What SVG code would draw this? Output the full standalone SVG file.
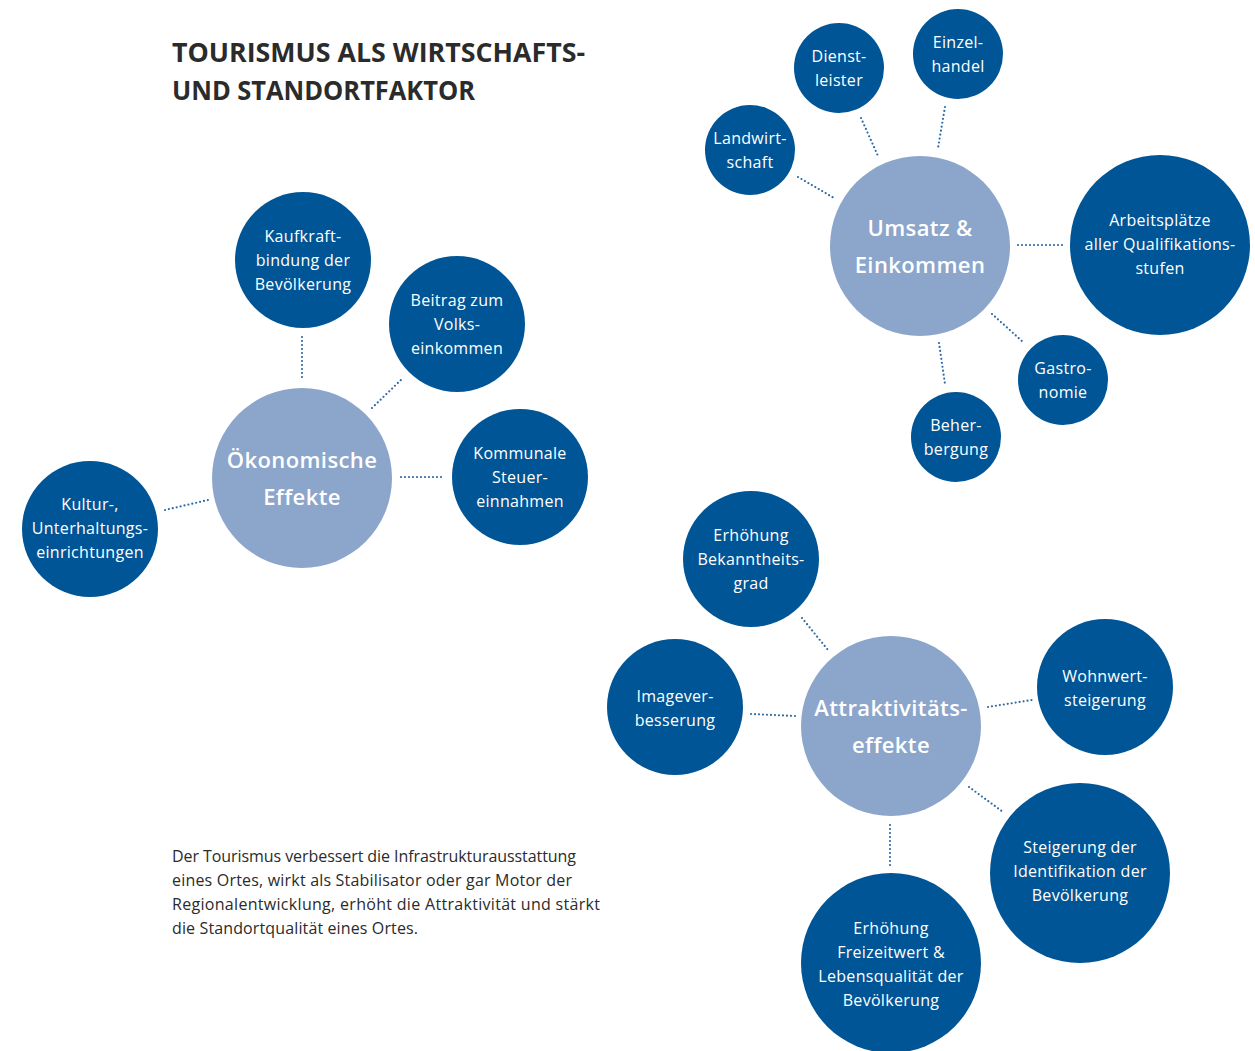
<svg xmlns="http://www.w3.org/2000/svg" width="1255" height="1051" viewBox="0 0 1255 1051">
<style>
.d{fill:#005596}
.l{fill:#8ba5cb}
.t{font-family:"Open Sans","Noto Sans",sans-serif;fill:#fff;font-size:16px;text-anchor:middle;font-weight:500;letter-spacing:0.3px}
.c{font-family:"Open Sans","Noto Sans",sans-serif;fill:#fff;font-size:22px;text-anchor:middle;font-weight:600;letter-spacing:0.4px}
.h{font-family:"Open Sans","Noto Sans",sans-serif;fill:#2b2b2b;font-size:26px;font-weight:700}
.b{font-family:"Open Sans","Noto Sans",sans-serif;fill:#2b2b2b;font-size:16px;font-weight:500}
.k line{stroke:#2d6aa5;stroke-width:2.2;stroke-linecap:round;stroke-dasharray:0 4;fill:none}
</style>
<rect width="1255" height="1051" fill="#fff"/>
<g id="title">
<text class="h" x="172" y="62" textLength="413" lengthAdjust="spacingAndGlyphs">TOURISMUS ALS WIRTSCHAFTS-</text>
<text class="h" x="172" y="100" textLength="303" lengthAdjust="spacingAndGlyphs">UND STANDORTFAKTOR</text>
</g>
<g id="body">
<text class="b" x="172" y="862" textLength="404">Der Tourismus verbessert die Infrastrukturausstattung</text>
<text class="b" x="172" y="886" textLength="400">eines Ortes, wirkt als Stabilisator oder gar Motor der</text>
<text class="b" x="172" y="910" textLength="428">Regionalentwicklung, erhöht die Attraktivität und stärkt</text>
<text class="b" x="172" y="934" textLength="246">die Standortqualität eines Ortes.</text>
</g>
<g id="connectors" class="k">
<line x1="302" y1="337" x2="302" y2="379"/>
<line x1="372" y1="408" x2="403" y2="378"/>
<line x1="401" y1="477" x2="445" y2="477"/>
<line x1="165" y1="510" x2="208" y2="500"/>
<line x1="798" y1="177" x2="834" y2="198"/>
<line x1="861" y1="118" x2="878" y2="156"/>
<line x1="945" y1="107" x2="938" y2="148"/>
<line x1="1018" y1="245" x2="1063" y2="245"/>
<line x1="992" y1="314" x2="1023" y2="342"/>
<line x1="939" y1="343" x2="945" y2="384"/>
<line x1="802" y1="618" x2="828" y2="650"/>
<line x1="751" y1="714" x2="795" y2="716"/>
<line x1="988" y1="707" x2="1032" y2="700"/>
<line x1="969" y1="787" x2="1003" y2="812"/>
<line x1="890" y1="825" x2="890" y2="866"/>
</g>
<g id="oekonomische">
<circle class="l" cx="302" cy="478" r="90"/>
<text class="c" x="302" y="468">Ökonomische</text>
<text class="c" x="302" y="505">Effekte</text>
</g>
<g id="kaufkraft">
<circle class="d" cx="303" cy="260" r="68"/>
<text class="t" x="303" y="242">Kaufkraft-</text>
<text class="t" x="303" y="266">bindung der</text>
<text class="t" x="303" y="290">Bevölkerung</text>
</g>
<g id="beitrag">
<circle class="d" cx="457" cy="324" r="68"/>
<text class="t" x="457" y="306">Beitrag zum</text>
<text class="t" x="457" y="330">Volks-</text>
<text class="t" x="457" y="354">einkommen</text>
</g>
<g id="kommunale">
<circle class="d" cx="520" cy="477" r="68"/>
<text class="t" x="520" y="459">Kommunale</text>
<text class="t" x="520" y="483">Steuer-</text>
<text class="t" x="520" y="507">einnahmen</text>
</g>
<g id="kultur">
<circle class="d" cx="90" cy="529" r="68"/>
<text class="t" x="90" y="510">Kultur-,</text>
<text class="t" x="90" y="534">Unterhaltungs-</text>
<text class="t" x="90" y="558">einrichtungen</text>
</g>
<g id="umsatz">
<circle class="l" cx="920" cy="246" r="90"/>
<text class="c" x="920" y="236">Umsatz &amp;</text>
<text class="c" x="920" y="273">Einkommen</text>
</g>
<g id="landwirtschaft">
<circle class="d" cx="750" cy="150" r="45"/>
<text class="t" x="750" y="144">Landwirt-</text>
<text class="t" x="750" y="168">schaft</text>
</g>
<g id="dienstleister">
<circle class="d" cx="839" cy="68" r="45"/>
<text class="t" x="839" y="62">Dienst-</text>
<text class="t" x="839" y="86">leister</text>
</g>
<g id="einzelhandel">
<circle class="d" cx="958" cy="54" r="45"/>
<text class="t" x="958" y="48">Einzel-</text>
<text class="t" x="958" y="72">handel</text>
</g>
<g id="arbeitsplaetze">
<circle class="d" cx="1160" cy="245" r="90"/>
<text class="t" x="1160" y="226">Arbeitsplätze</text>
<text class="t" x="1160" y="250">aller Qualifikations-</text>
<text class="t" x="1160" y="274">stufen</text>
</g>
<g id="gastronomie">
<circle class="d" cx="1063" cy="380" r="45"/>
<text class="t" x="1063" y="374">Gastro-</text>
<text class="t" x="1063" y="398">nomie</text>
</g>
<g id="beherbergung">
<circle class="d" cx="956" cy="437" r="45"/>
<text class="t" x="956" y="431">Beher-</text>
<text class="t" x="956" y="455">bergung</text>
</g>
<g id="attraktivitaet">
<circle class="l" cx="891" cy="726" r="90"/>
<text class="c" x="891" y="716">Attraktivitäts-</text>
<text class="c" x="891" y="753">effekte</text>
</g>
<g id="bekanntheit">
<circle class="d" cx="751" cy="559" r="68"/>
<text class="t" x="751" y="541">Erhöhung</text>
<text class="t" x="751" y="565">Bekanntheits-</text>
<text class="t" x="751" y="589">grad</text>
</g>
<g id="image">
<circle class="d" cx="675" cy="707" r="68"/>
<text class="t" x="675" y="702">Imagever-</text>
<text class="t" x="675" y="726">besserung</text>
</g>
<g id="wohnwert">
<circle class="d" cx="1105" cy="687" r="68"/>
<text class="t" x="1105" y="682">Wohnwert-</text>
<text class="t" x="1105" y="706">steigerung</text>
</g>
<g id="identifikation">
<circle class="d" cx="1080" cy="873" r="90"/>
<text class="t" x="1080" y="853">Steigerung der</text>
<text class="t" x="1080" y="877">Identifikation der</text>
<text class="t" x="1080" y="901">Bevölkerung</text>
</g>
<g id="freizeitwert">
<circle class="d" cx="891" cy="963" r="90"/>
<text class="t" x="891" y="934">Erhöhung</text>
<text class="t" x="891" y="958">Freizeitwert &amp;</text>
<text class="t" x="891" y="982">Lebensqualität der</text>
<text class="t" x="891" y="1006">Bevölkerung</text>
</g>
</svg>
